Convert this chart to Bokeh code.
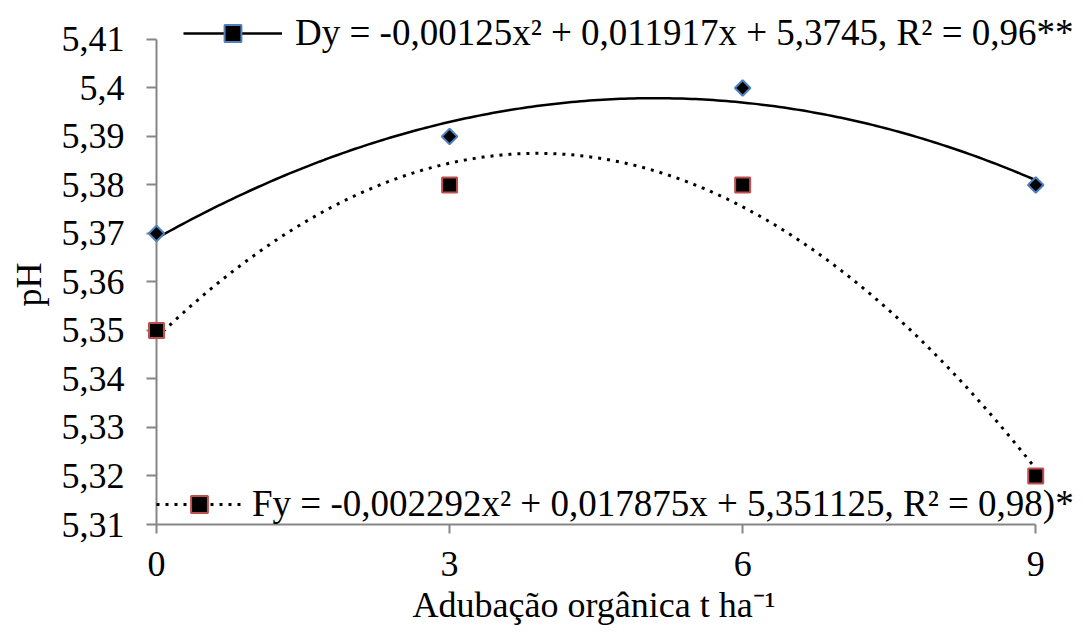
import numpy as np
from bokeh.plotting import figure
from bokeh.models import FixedTicker, Legend, LegendItem, Range1d, Title
from bokeh.embed import file_html
from bokeh.resources import INLINE

# ---- data ----
doses = [0, 3, 6, 9]
ph_d = [5.37, 5.39, 5.40, 5.38]
ph_f = [5.35, 5.38, 5.38, 5.32]
x_ticks = [0, 3, 6, 9]
y_ticks = [5.31, 5.32, 5.33, 5.34, 5.35, 5.36, 5.37, 5.38, 5.39, 5.40, 5.41]
y_tick_labels = ["5,31", "5,32", "5,33", "5,34", "5,35", "5,36", "5,37", "5,38", "5,39", "5,4", "5,41"]
label_d = "Dy = -0,00125x² + 0,011917x + 5,3745, R² = 0,96**"
label_f = "Fy = -0,002292x² + 0,017875x + 5,351125, R² = 0,98)*"
x_title = "Adubação orgânica t ha⁻¹"
y_title = "pH"

FONT = "Liberation Serif"

# quadratic trend lines fitted to the data
xs = np.linspace(min(doses), max(doses), 200)
fit_d = np.polyval(np.polyfit(doses, ph_d, 2), xs)
fit_f = np.polyval(np.polyfit(doses, ph_f, 2), xs)

# ranges run a little past the last ticks so that both legends fit inside the frame;
# the axes themselves are bounded to the tick span
p = figure(width=1089, height=639, output_backend="svg", toolbar_location=None,
           x_range=Range1d(0, 9.5504), y_range=Range1d(5.31, 5.41804),
           min_border_left=152, min_border_right=0, min_border_top=0, min_border_bottom=115)
p.outline_line_color = None
p.grid.visible = False
p.background_fill_color = "white"

ln_d = p.line(xs, fit_d, line_color="black", line_width=2.5)
ln_f = p.line(xs, fit_f, line_color="black", line_width=3, line_dash="3 6")
sc_d = p.scatter(doses, ph_d, marker="square", angle=np.pi / 4, size=11,
                 fill_color="black", line_color="#4f81bd", line_width=2, level="overlay")
sc_f = p.scatter(doses, ph_f, marker="square", size=15,
                 fill_color="black", line_color="#c0504d", line_width=2, level="overlay")

# axes
for ax in (p.xaxis[0], p.yaxis[0]):
    ax.axis_line_color = "#868686"
    ax.axis_line_width = 2
    ax.major_tick_line_color = "#868686"
    ax.major_tick_line_width = 2
    ax.major_tick_in = 0
    ax.minor_tick_line_color = None
    ax.major_label_text_font = FONT
    ax.major_label_text_font_size = "36px"
    ax.major_label_text_color = "black"

p.xaxis.ticker = FixedTicker(ticks=x_ticks)
p.xaxis.bounds = (0, 9)
p.xaxis.major_tick_out = 9
p.xaxis.major_label_standoff = 18

p.yaxis.ticker = FixedTicker(ticks=y_ticks)
p.yaxis.bounds = (5.31, 5.41)
p.yaxis.major_label_overrides = {t: l for t, l in zip(y_ticks, y_tick_labels)}
p.yaxis.major_tick_out = 10
p.yaxis.major_label_standoff = 22

# axis titles
xt = Title(text=x_title, align="left", offset=256, standoff=8,
           text_font=FONT, text_font_size="36px", text_font_style="normal",
           text_color="black")
p.add_layout(xt, "below")
yt = Title(text=y_title, align="left", offset=218, standoff=16, vertical_align="top",
           text_font=FONT, text_font_size="36px", text_font_style="normal",
           text_color="black")
p.add_layout(yt, "left")

def make_legend(item, loc, gw, standoff):
    return Legend(items=[item], location=loc, padding=0, margin=0,
                  glyph_width=gw, glyph_height=42, label_height=42,
                  label_standoff=standoff,
                  label_text_font=FONT, label_text_font_size="37px",
                  label_text_color="black",
                  border_line_alpha=0, background_fill_alpha=0)

leg1 = make_legend(LegendItem(label=label_d, renderers=[ln_d, sc_d]), (27, 470), 99, 13)
leg2 = make_legend(LegendItem(label=label_f, renderers=[ln_f, sc_f]), (0, -1), 86, 10)
p.add_layout(leg1)
p.add_layout(leg2)

open("out.html", "w").write(file_html(p, INLINE))
